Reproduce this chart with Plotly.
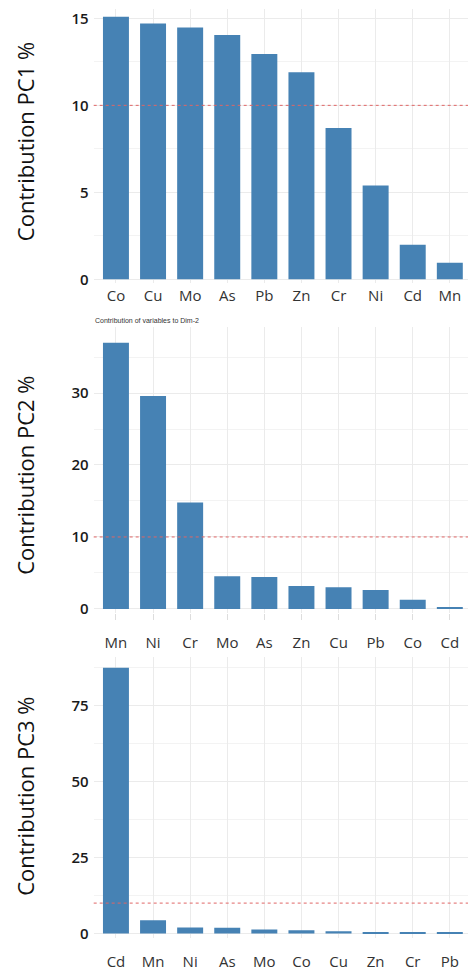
import plotly.graph_objects as go

# Variable contributions (%) to the first three principal components
pc1_vars = ["Co", "Cu", "Mo", "As", "Pb", "Zn", "Cr", "Ni", "Cd", "Mn"]
pc1_vals = [15.1, 14.7, 14.47, 14.04, 12.95, 11.9, 8.7, 5.39, 1.98, 0.95]

pc2_vars = ["Mn", "Ni", "Cr", "Mo", "As", "Zn", "Cu", "Pb", "Co", "Cd"]
pc2_vals = [37.0, 29.6, 14.8, 4.55, 4.45, 3.2, 3.0, 2.62, 1.28, 0.22]

pc3_vars = ["Cd", "Mn", "Ni", "As", "Mo", "Co", "Cu", "Zn", "Cr", "Pb"]
pc3_vals = [87.4, 4.35, 1.95, 1.9, 1.3, 1.1, 0.75, 0.4, 0.35, 0.3]

threshold = 10  # expected average contribution (100 / 10 variables)

BAR = "#4682B4"
GRID = "#ebebeb"
FONT = "Open Sans"

panels = [
    dict(vars=pc1_vars, vals=pc1_vals, title="Contribution PC1 %",
         dom=[0.70812, 0.99178], rng=[-0.229, 15.543], dtick=5,
         standoff=2, ticks="", title_y=0.854),
    dict(vars=pc2_vars, vals=pc2_vals, title="Contribution PC2 %",
         dom=[0.36691, 0.66290], rng=[-0.594, 39.18], dtick=10,
         standoff=10, ticks="outside", title_y=0.509),
    dict(vars=pc3_vars, vals=pc3_vals, title="Contribution PC3 %",
         dom=[0.03083, 0.32169], rng=[-1.54, 90.95], dtick=25,
         standoff=13, ticks="", title_y=0.177),
]

fig = go.Figure()
layout = dict(
    width=468, height=973,
    margin=dict(l=0, r=0, t=0, b=0),
    paper_bgcolor="white", plot_bgcolor="white",
    showlegend=False, bargap=0.3,
    font=dict(family=FONT, color="#222"),
)
shapes = []
annotations = []

for i, p in enumerate(panels):
    n = "" if i == 0 else str(i + 1)
    fig.add_trace(go.Bar(
        x=p["vars"], y=p["vals"], marker_color=BAR, marker_line_width=0,
        xaxis="x" + n, yaxis="y" + n, width=0.7,
    ))
    layout["xaxis" + n] = dict(
        domain=[0.2002, 1.0], anchor="y" + n, type="category",
        range=[-0.6, 9.49], showgrid=True, gridcolor=GRID, gridwidth=1,
        zeroline=False, showline=False, ticks=p["ticks"], ticklen=6,
        tickcolor="#dddddd", ticklabelstandoff=p["standoff"],
        tickfont=dict(family=FONT, size=15, color="#333"),
    )
    layout["yaxis" + n] = dict(
        domain=p["dom"], anchor="x" + n, range=p["rng"],
        dtick=p["dtick"], tick0=0, showgrid=True, gridcolor=GRID, gridwidth=1,
        zeroline=False, showline=False, ticks="",
        minor=dict(dtick=p["dtick"] / 2, showgrid=True,
                   gridcolor="#f3f3f3", gridwidth=1),
        tickfont=dict(family=FONT, size=15, color="#1a1a1a", weight=600),
        ticklabelstandoff=4,
    )
    shapes.append(dict(
        type="line", xref="x" + n + " domain", yref="y" + n,
        x0=0, x1=1, y0=threshold, y1=threshold,
        line=dict(color="#e06666", width=1, dash="dot"),
    ))
    annotations.append(dict(
        text=p["title"], textangle=-90, xref="paper", yref="paper",
        x=25 / 468, y=p["title_y"], xanchor="center", yanchor="middle",
        showarrow=False, font=dict(family=FONT, size=22, color="#111"),
    ))

annotations.append(dict(
    text="Contribution of variables to Dim-2", xref="paper", yref="paper",
    x=93 / 468, y=1 - 321 / 973, xanchor="left", yanchor="middle",
    showarrow=False, font=dict(family="Liberation Sans", size=7, color="#333"),
))

layout["shapes"] = shapes
layout["annotations"] = annotations
fig.update_layout(**layout)
fig.write_html("out.html")
